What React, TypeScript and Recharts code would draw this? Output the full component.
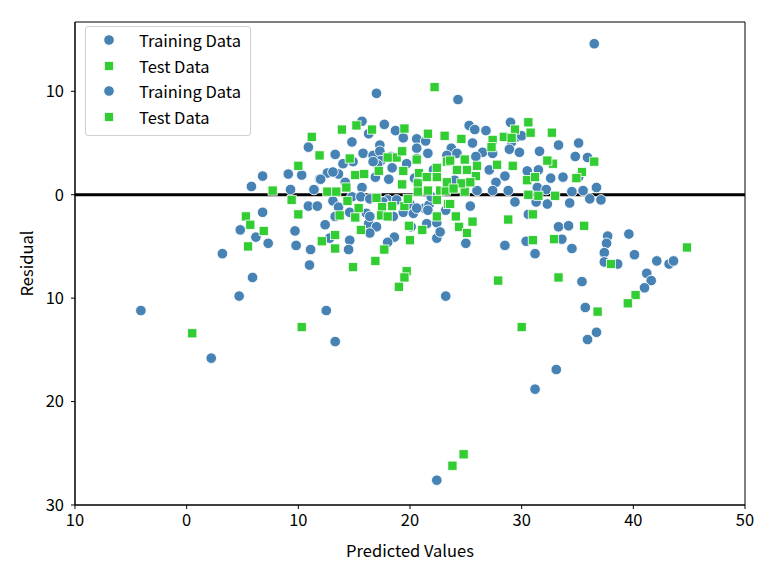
import {
  ScatterChart,
  Scatter,
  XAxis,
  YAxis,
  ReferenceLine,
  ReferenceArea,
  Legend,
} from "recharts"

// predicted value / residual pairs
const TRAIN_PRED = [
  -4.1, 2.2, 3.2, 4.7, 5.9, 6.8, 4.8, 6.2, 7.3, 9.7, 9.8, 11.1, 11.0, 10.9, 11.7, 5.8, 6.8, 9.1, 10.3, 9.3, 10.9, 11.4, 11.9,
  17.0, 15.7, 17.7, 18.7, 14.8, 17.3, 19.4, 20.6, 21.4, 15.8, 16.7, 17.3, 14.0, 13.3, 14.9, 17.4, 17.1, 12.6, 13.6, 12.0, 15.7, 18.1, 16.9, 18.4, 20.6, 20.6,
  13.1, 14.8, 15.6, 18.0, 20.0, 21.3, 21.7, 14.6, 16.1, 16.3, 12.4, 17.0, 18.5, 19.4, 20.3, 21.5, 22.4, 18.6, 16.4, 14.6, 12.8, 18.0, 22.4,
  14.5, 25.0, 28.5, 31.2, 30.4, 33.6, 34.5, 35.4, 35.7, 35.9, 36.7, 23.2, 12.5, 13.3, 33.1, 31.2, 22.4,
  24.3, 25.3, 25.8, 26.8, 29.0, 29.6, 29.1, 25.6, 23.7, 23.3, 24.2, 26.5, 27.4, 25.9, 27.1, 28.5, 27.7, 31.6, 33.3, 34.8, 35.1, 35.9,
  30.5, 31.5, 32.6, 33.7, 35.1, 36.7, 27.4, 28.8, 31.4, 32.2, 34.5, 35.5, 29.4, 25.4, 23.2, 32.3, 34.3, 33.3, 34.2, 30.6, 22.7, 28.9, 29.8,
  36.5, 36.1, 37.1, 37.7, 37.6, 37.4, 37.4, 38.6, 39.6, 40.1, 42.1, 43.2, 43.6, 41.2, 41.6, 41.0,
  16.3, 13.1, 14.2, 16.7, 18.3, 19.7, 21.6, 20.4, 22.1, 16.4, 17.6, 18.8, 20.6, 21.6, 13.6, 13.3, 16.4, 20.1, 24.0, 24.9, 26.0, 31.3, 21.9, 30.0,
]
const TRAIN_RESID = [
  -11.2, -15.8, -5.7, -9.8, -8.0, -1.7, -3.4, -4.1, -4.7, -3.5, -4.9, -5.3, -6.8, -1.1, -1.1, 0.8, 1.8, 2.0, 1.9, 0.5, 4.6, 0.5, 1.5,
  9.8, 7.1, 6.8, 6.2, 5.1, 4.8, 5.5, 5.4, 5.2, 4.0, 3.8, 4.2, 3.0, 3.9, 3.2, 3.3, 2.9, 2.1, 2.0, 1.5, 0.7, 1.5, 1.7, 2.6, 4.5, 3.5,
  -0.6, -0.2, -0.2, -0.5, -0.9, -1.3, -1.0, -1.7, -1.8, -2.8, -2.9, -3.1, -2.1, -1.7, -1.8, -2.8, -2.7, -4.1, -3.7, -4.4, -4.2, -4.6, -4.2,
  -5.3, -4.7, -4.9, -5.7, -4.5, -4.3, -5.2, -8.4, -10.9, -14.0, -13.3, -9.8, -11.2, -14.2, -16.9, -18.8, -27.6,
  9.2, 6.7, 6.3, 6.2, 7.0, 5.6, 5.1, 5.0, 4.5, 3.8, 4.0, 4.1, 4.0, 3.7, 2.4, 1.8, 1.2, 4.2, 4.8, 3.7, 5.0, 3.6,
  2.3, 2.4, 1.6, 1.7, 1.7, 0.7, 0.4, 0.4, 0.7, 0.5, 0.3, 0.4, -0.7, -1.1, -1.5, -0.9, -0.8, -3.1, -3.0, -1.9, -3.6, 4.4, 4.1,
  14.6, -0.4, -0.5, -4.0, -4.7, -5.6, -6.5, -6.7, -3.8, -5.8, -6.4, -6.7, -6.4, -7.6, -8.3, -9.0,
  5.9, 2.2, 1.2, 3.2, 3.7, 3.0, 4.0, 1.6, 2.4, -0.4, -0.7, -0.5, -1.3, -1.5, -1.2, -2.1, -2.1, -3.1, 1.4, 0.6, 0.4, -0.7, -0.2, 5.7,
]

const TEST_PRED = [
  5.3, 5.7, 6.9, 5.5, 10.0, 10.3, 0.5, 9.4, 11.2, 10.0, 7.7, 11.9,
  22.2, 13.9, 15.2, 16.6, 19.5, 21.6, 23.1, 14.6, 18.8, 19.3, 20.6, 17.2, 15.1, 15.9, 19.4, 20.8, 22.4, 22.4, 23.3, 19.3, 20.7, 21.5, 22.7, 21.6, 20.7, 12.6, 13.4, 14.3,
  14.4, 15.4, 17.0, 17.5, 18.4, 19.5, 19.8, 22.4, 23.4, 13.7, 15.1, 17.4, 18.0, 19.9, 21.1, 15.6, 13.3, 12.1, 20.0, 17.7,
  13.3, 14.9, 16.9, 19.7, 19.5, 19.0, 27.9, 33.3, 30.0, 32.9, 31.0, 36.8, 24.8, 23.8,
  30.6, 29.4, 30.8, 32.7, 24.6, 27.4, 28.4, 27.3, 29.1, 23.6, 24.9, 26.0, 24.2, 25.1, 25.9, 27.8, 29.2, 32.8, 32.3, 36.5, 35.4, 30.5, 31.2, 34.9,
  23.2, 24.9, 30.6, 31.5, 33.0, 23.6, 24.1, 25.6, 24.4, 25.1, 28.8, 31.0, 35.6,
  38.0, 44.8, 40.2, 39.5, 18.0, 22.4, 23.3, 24.6, 23.9, 25.4,
]
const TEST_RESID = [
  -2.1, -2.9, -3.5, -5.0, -1.9, -12.8, -13.4, -0.5, 5.6, 2.8, 0.4, 3.8,
  10.4, 6.3, 6.7, 6.3, 6.4, 5.9, 5.7, 3.5, 3.6, 4.2, 3.4, 2.3, 1.9, 2.0, 2.3, 2.1, 2.6, 1.7, 3.2, 1.0, 1.1, 1.7, 0.4, 0.4, 0.3, 0.3, 0.3, 0.7,
  -0.6, -1.3, -0.3, -1.2, -1.1, -1.1, -0.4, -0.5, -0.9, -2.0, -2.2, -2.0, -2.1, -3.0, -3.4, -3.4, -3.9, -4.5, -4.4, -5.3,
  -5.2, -7.0, -6.4, -7.4, -8.0, -8.9, -8.3, -8.0, -12.8, -4.3, -4.4, -11.3, -25.1, -26.2,
  7.0, 6.3, 6.0, 6.0, 5.4, 5.3, 5.6, 4.6, 5.5, 3.3, 3.4, 2.8, 2.4, 2.4, 1.8, 2.9, 2.8, 3.0, 3.3, 3.2, 2.2, 1.4, 1.7, 1.6,
  0.4, 0.3, 0.0, -0.1, -0.1, -0.9, -2.1, -2.6, -3.1, -3.7, -2.4, -1.9, -3.0,
  -6.7, -5.1, -9.7, -10.5, 3.6, -2.1, 1.2, 1.1, 0.6, 1.2,
]

const X_TICKS = [-10, 0, 10, 20, 30, 40, 50]
const Y_TICKS = [-30, -20, -10, 0, 10]
const LEGEND_ITEMS = ["Training Data", "Test Data", "Training Data", "Test Data"]

const BLUE = "#4682b4"
const GREEN = "#32cd32"
const FONT_SIZE = 16.5

const trainData = TRAIN_PRED.map((x, i) => ({ x, y: TRAIN_RESID[i] }))
const testData = TEST_PRED.map((x, i) => ({ x, y: TEST_RESID[i] }))

// eslint-disable-next-line @typescript-eslint/no-explicit-any
function Dot({ cx, cy }: any) {
  if (cx == null || cy == null) return null
  return <circle cx={cx} cy={cy} r={5.3} fill={BLUE} stroke="#fff" strokeWidth={0.9} />
}

// eslint-disable-next-line @typescript-eslint/no-explicit-any
function Square({ cx, cy }: any) {
  if (cx == null || cy == null) return null
  return <rect x={cx - 4.6} y={cy - 4.6} width={9.2} height={9.2} fill={GREEN} stroke="#fff" strokeWidth={0.8} />
}

function LegendBox() {
  return (
    <div
      style={{
        width: 166,
        height: 110,
        background: "rgba(255,255,255,0.8)",
        border: "1px solid #d0d0d0",
        borderRadius: 3,
        boxSizing: "border-box",
        paddingTop: 0,
      }}
    >
      {LEGEND_ITEMS.map((name, i) => (
        <div
          key={i}
          style={{ display: "flex", alignItems: "center", height: 25.8, fontSize: FONT_SIZE, color: "#000", whiteSpace: "nowrap" }}
        >
          <svg width={53} height={14}>
            {i % 2 === 0 ? (
              <circle cx={23} cy={7} r={5.3} fill={BLUE} stroke="#fff" strokeWidth={0.9} />
            ) : (
              <rect x={18.4} y={2.4} width={9.2} height={9.2} fill={GREEN} stroke="#fff" strokeWidth={0.8} />
            )}
          </svg>
          <span>{name}</span>
        </div>
      ))}
    </div>
  )
}

export default function App() {
  return (
    <div
      style={{
        position: "absolute",
        left: 0,
        top: 0,
        width: 773,
        height: 576,
        background: "#fff",
        fontFamily: "'Noto Sans CJK KR', 'Noto Sans', sans-serif",
      }}
    >
      <ScatterChart width={773} height={576} margin={{ top: 22, right: 28, bottom: 0, left: 0 }}>
        <XAxis
          type="number"
          dataKey="x"
          domain={[-10, 50]}
          ticks={X_TICKS}
          tickFormatter={(v) => String(Math.abs(v))}
          allowDataOverflow
          height={71}
          tickSize={4}
          tickMargin={5}
          tick={{ fontSize: FONT_SIZE, fill: "#000" }}
          axisLine={{ stroke: "#000" }}
          tickLine={{ stroke: "#000" }}
          label={{ value: "Predicted Values", position: "insideBottom", offset: 19, fontSize: FONT_SIZE, fill: "#000" }}
        />
        <YAxis
          type="number"
          dataKey="y"
          domain={[-30, 16.7]}
          ticks={Y_TICKS}
          tickFormatter={(v) => String(Math.abs(v))}
          allowDataOverflow
          width={75}
          tickSize={4}
          tickMargin={7}
          tick={{ fontSize: FONT_SIZE, fill: "#000" }}
          axisLine={{ stroke: "#000" }}
          tickLine={{ stroke: "#000" }}
          label={{
            value: "Residual",
            angle: -90,
            position: "insideLeft",
            offset: 27,
            fontSize: FONT_SIZE,
            fill: "#000",
            style: { textAnchor: "middle" },
          }}
        />
        <ReferenceArea x1={-10} x2={50} y1={-30} y2={16.7} fill="none" stroke="#000" strokeWidth={1} ifOverflow="visible" />
        <Scatter name="Training Data" data={trainData} shape={<Dot />} isAnimationActive={false} />
        <Scatter name="Test Data" data={testData} shape={<Square />} isAnimationActive={false} />
        <ReferenceLine y={0} stroke="#000" strokeWidth={3} />
        <Legend
          layout="vertical"
          align="center"
          verticalAlign="middle"
          content={() => <LegendBox />}
          wrapperStyle={{ position: "absolute", left: 85, top: 26, width: 166, height: 110 }}
        />
      </ScatterChart>
    </div>
  )
}
